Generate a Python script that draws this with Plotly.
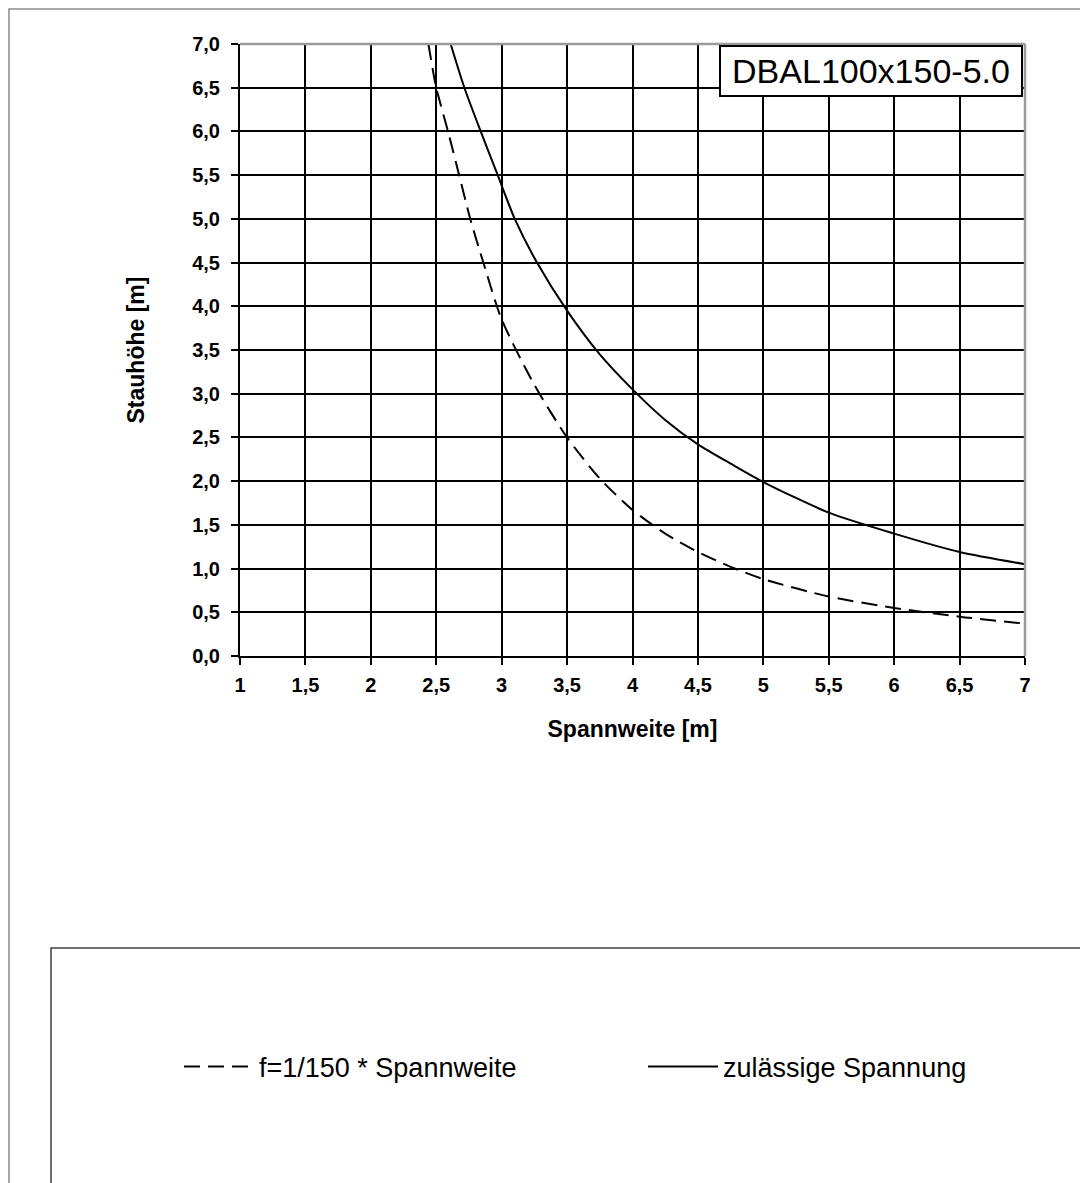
import plotly.graph_objects as go

# ---- data ----
span_deflection = [2.44, 2.5, 2.59, 2.675, 2.76, 2.86, 3.0, 3.25, 3.5, 3.75, 4.0, 4.25, 4.5, 4.75, 5.0, 5.5, 6.0, 6.5, 7.0]
height_deflection = [7.0, 6.5, 6.0, 5.5, 5.0, 4.5, 3.85, 3.1, 2.5, 2.03, 1.67, 1.40, 1.19, 1.02, 0.88, 0.68, 0.55, 0.45, 0.37]

span_stress = [2.61, 2.715, 2.84, 2.97, 3.10, 3.27, 3.5, 3.75, 4.0, 4.25, 4.5, 4.75, 5.0, 5.5, 6.0, 6.5, 7.0]
height_stress = [7.0, 6.5, 6.0, 5.5, 5.0, 4.5, 3.95, 3.45, 3.05, 2.70, 2.42, 2.20, 1.99, 1.64, 1.40, 1.19, 1.05]

x_tickvals = [1, 1.5, 2, 2.5, 3, 3.5, 4, 4.5, 5, 5.5, 6, 6.5, 7]
x_ticktext = ["1", "1,5", "2", "2,5", "3", "3,5", "4", "4,5", "5", "5,5", "6", "6,5", "7"]
y_tickvals = [0, 0.5, 1, 1.5, 2, 2.5, 3, 3.5, 4, 4.5, 5, 5.5, 6, 6.5, 7]
y_ticktext = ["0,0", "0,5", "1,0", "1,5", "2,0", "2,5", "3,0", "3,5", "4,0", "4,5", "5,0", "5,5", "6,0", "6,5", "7,0"]

series_names = ["f=1/150 * Spannweite", "zulässige Spannung"]
title_text = "DBAL100x150-5.0"
x_title = "Spannweite [m]"
y_title = "Stauhöhe [m]"

FONT = "Liberation Sans, Arial, sans-serif"

# page body has an 8px margin; compensate so the plot lands at the reference pixels
OFF = 8
# plot area in (screen) pixels
L, R, T, B = 240, 1025, 44, 656
W, H = 1088, 1183


def px(xp):
    return (xp - L) / (R - L)


def py(yp):
    return (B - yp) / (B - T)


fig = go.Figure()
fig.add_trace(go.Scatter(
    x=span_deflection, y=height_deflection, mode="lines", name=series_names[0],
    line=dict(color="black", width=2, dash="16px,8px", shape="spline", smoothing=0.7),
    cliponaxis=True, legend="legend",
))
fig.add_trace(go.Scatter(
    x=span_stress, y=height_stress, mode="lines", name=series_names[1],
    line=dict(color="black", width=2, shape="spline", smoothing=0.7),
    cliponaxis=True, legend="legend2",
))

shapes = [
    # outer chart border
    dict(type="rect", xref="paper", yref="paper", x0=px(9), x1=px(1100), y0=py(1200), y1=py(9),
         line=dict(color="#8a8a8a", width=1.5), fillcolor="rgba(0,0,0,0)", layer="below"),
    # legend box
    dict(type="rect", xref="paper", yref="paper", x0=px(51), x1=px(1100), y0=py(1200), y1=py(948),
         line=dict(color="#404040", width=1.5), fillcolor="rgba(0,0,0,0)", layer="below"),
    # grey top and right plot borders
    dict(type="line", xref="paper", yref="paper", x0=0, x1=1, y0=1, y1=1,
         line=dict(color="#9a9a9a", width=2.5), layer="above"),
    dict(type="line", xref="paper", yref="paper", x0=1, x1=1, y0=0, y1=1,
         line=dict(color="#9a9a9a", width=2.5), layer="above"),
]

legend_common = dict(
    orientation="h", yanchor="middle", xanchor="left",
    font=dict(family=FONT, size=27, color="black"),
    bgcolor="rgba(0,0,0,0)", borderwidth=0, itemwidth=70,
)

fig.update_layout(
    width=W, height=H,
    margin=dict(l=L - OFF, r=W - R + OFF, t=T - OFF, b=H - B + OFF, pad=0),
    paper_bgcolor="white", plot_bgcolor="white",
    font=dict(family=FONT, color="black"),
    shapes=shapes,
    showlegend=True,
    legend=dict(x=px(179), y=py(1067), **legend_common),
    legend2=dict(x=px(643), y=py(1067), **legend_common),
    annotations=[
        dict(text=title_text, xref="paper", yref="paper", x=px(1023), y=py(45),
             xanchor="right", yanchor="top", showarrow=False,
             font=dict(family=FONT, size=34, color="black"),
             width=290, align="center",
             bgcolor="white", bordercolor="black", borderwidth=2, borderpad=5),
    ],
)

fig.update_xaxes(
    range=[1, 7], tickmode="array", tickvals=x_tickvals, ticktext=x_ticktext,
    showgrid=True, gridcolor="black", gridwidth=2, zeroline=False,
    showline=True, linecolor="black", linewidth=2,
    ticks="outside", ticklen=7, tickwidth=2, tickcolor="black", ticklabelstandoff=3,
    tickfont=dict(family=FONT, size=20, color="black", weight="bold"),
    title=dict(text=x_title, standoff=26,
               font=dict(family=FONT, size=23, color="black", weight="bold")),
    fixedrange=True,
)
fig.update_yaxes(
    range=[0, 7], tickmode="array", tickvals=y_tickvals, ticktext=y_ticktext,
    showgrid=True, gridcolor="black", gridwidth=2, zeroline=False,
    showline=True, linecolor="black", linewidth=2,
    ticks="outside", ticklen=7, tickwidth=2, tickcolor="black", ticklabelstandoff=7,
    tickfont=dict(family=FONT, size=20, color="black", weight="bold"),
    title=dict(text=y_title, standoff=41,
               font=dict(family=FONT, size=23, color="black", weight="bold")),
    fixedrange=True,
)

fig.write_html("out.html")
